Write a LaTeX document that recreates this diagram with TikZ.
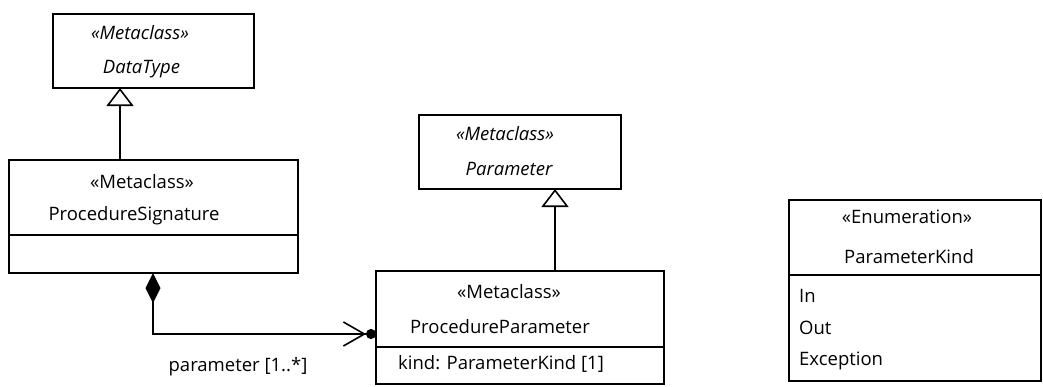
\documentclass[tikz,border=0pt]{standalone}
\usepackage{fontspec}
\setmainfont{Open Sans}
\usetikzlibrary{arrows.meta}
\begin{document}
\begin{tikzpicture}[x=1pt,y=-1pt,
  box/.style={draw, line width=1.8pt, inner sep=0pt, outer sep=0pt, anchor=north west},
  txt/.style={font=\fontsize{18.5}{20}\selectfont, inner sep=0pt},
  itxt/.style={txt, font=\fontsize{18.5}{20}\selectfont\itshape},
  ltxt/.style={txt, anchor=west},
  conn/.style={draw, line width=1.8pt},
  gen/.style={conn, -{Triangle[open, length=18pt, width=27pt, line width=1.6pt]}},
  comp/.style={conn, {Diamond[length=30pt, width=15pt]}-{Straight Barb[length=21pt, width=24pt, line width=1.6pt] Circle[length=10pt]}}
]
\useasboundingbox (0,0) rectangle (1043,386);
\fill[white] (0,0) rectangle (1043,386);

% DataType
\node[box, minimum width=201pt, minimum height=74pt] (dt) at (53,14) {};
\node[itxt] (dt1) at (140,33) {«Metaclass»};
\node[itxt] (dt2) at (141.5,69) {DataType};

% ProcedureSignature
\node[box, minimum width=289pt, minimum height=113pt] (ps) at (9,160) {};
\node[txt] (ps1) at (142,182) {«Metaclass»};
\node[txt] (ps2) at (134,216) {ProcedureSignature};
\draw[line width=1.8pt] (ps.west |- 0,235) -- (ps.east |- 0,235);

% Parameter
\node[box, minimum width=202pt, minimum height=74pt] (par) at (419,115) {};
\node[itxt] (par1) at (505,134) {«Metaclass»};
\node[itxt] (par2) at (509,169) {Parameter};

% ProcedureParameter
\node[box, minimum width=288pt, minimum height=113pt] (pp) at (376,271) {};
\node[txt] (pp1) at (509,292) {«Metaclass»};
\node[txt] (pp2) at (500,327) {ProcedureParameter};
\draw[line width=1.8pt] (pp.west |- 0,347) -- (pp.east |- 0,347);
\node[ltxt] (pp3) at (398,364) {kind: ParameterKind [1]};

% ParameterKind
\node[box, minimum width=252pt, minimum height=181pt] (pk) at (789,200) {};
\node[txt] (pk1) at (907,217) {«Enumeration»};
\node[txt] (pk2) at (909,257) {ParameterKind};
\draw[line width=1.8pt] (pk.west |- 0,275) -- (pk.east |- 0,275);
\node[ltxt] (pk3) at (799,296) {In};
\node[ltxt] (pk4) at (799,328) {Out};
\node[ltxt] (pk5) at (799,361) {Exception};

% connectors
\coordinate (g1s) at (ps.north -| 120,0);
\coordinate (g1e) at (dt.south -| 120,0);
\path[gen] (g1s) -- (g1e);
\coordinate (g2s) at (pp.north -| 555,0);
\coordinate (g2e) at (par.south -| 555,0);
\path[gen] (g2s) -- (g2e);
\coordinate (cs) at (ps.south -| 153,0);
\coordinate (ce) at (pp.west |- 0,334);
\path[comp] (cs) |- (ce);
\node[txt] (lbl) at (238,367) {parameter [1..*]};
\end{tikzpicture}
\end{document}
